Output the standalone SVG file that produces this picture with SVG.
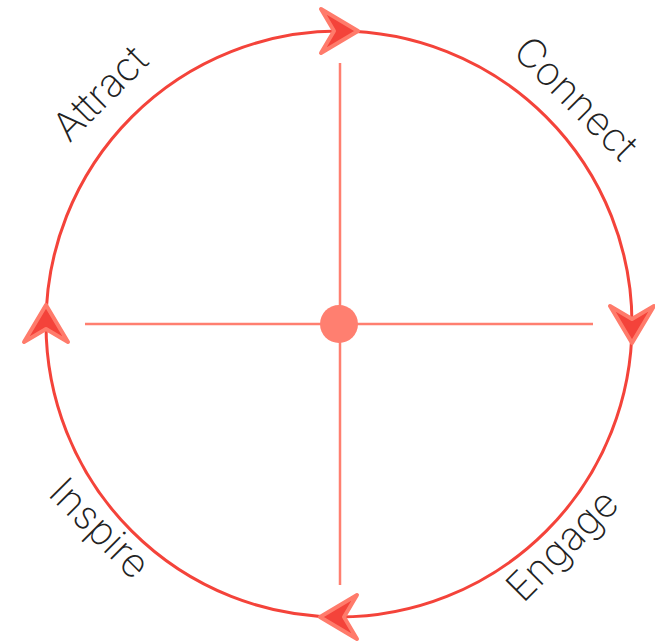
<svg xmlns="http://www.w3.org/2000/svg" width="655" height="642" viewBox="0 0 655 642">
<defs>
<style>
.ring{fill:none;stroke:#f4433a;stroke-width:3}
.axis{stroke:#ff7f70;stroke-width:2.5;fill:none}
.head{fill:#f4433a;stroke:#ff7b6b;stroke-width:4;stroke-linejoin:round}
.lbl{font-family:Inter,Lato,"Liberation Sans",sans-serif;font-weight:200;font-size:40px;fill:#222;text-anchor:middle}
</style>
<path id="arrowhead" class="head" d="M19,0 L-18,-22 L-5,0 L-18,22 Z"/>
</defs>
<rect width="655" height="642" fill="#fff"/>
<g id="cycle">
<circle class="ring" cx="339" cy="324" r="293"/>
</g>
<g id="connectors">
<line class="axis" x1="340" y1="63" x2="340" y2="585"/>
<line class="axis" x1="85" y1="324" x2="593" y2="324"/>
<use href="#arrowhead" transform="translate(339,31)"/>
<use href="#arrowhead" transform="translate(632,324) rotate(90)"/>
<use href="#arrowhead" transform="translate(339,617) rotate(180)"/>
<use href="#arrowhead" transform="translate(46,324) rotate(-90)"/>
</g>
<g id="center">
<circle cx="339" cy="324" r="19" fill="#ff7f70"/>
</g>
<g id="attract"><text class="lbl" transform="translate(110,103) rotate(-45)">Attract</text></g>
<g id="connect"><text class="lbl" transform="translate(566,108) rotate(45)">Connect</text></g>
<g id="engage"><text class="lbl" transform="translate(572,555) rotate(-45)">Engage</text></g>
<g id="inspire"><text class="lbl" transform="translate(90,538) rotate(45)">Inspire</text></g>
</svg>
